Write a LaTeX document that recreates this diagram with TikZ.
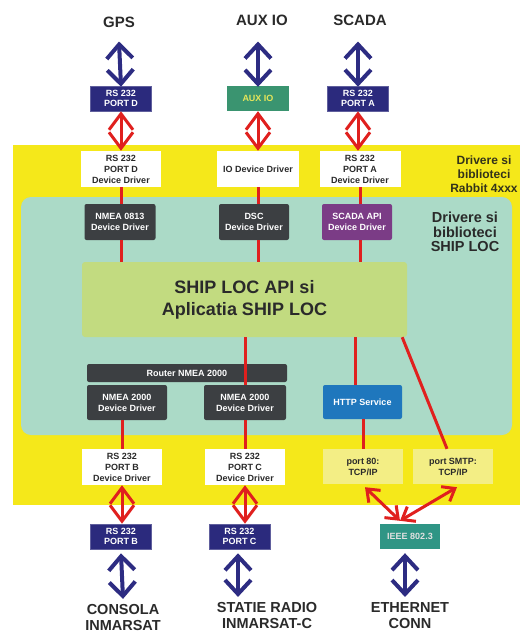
\documentclass[tikz,border=0pt]{standalone}
\usepackage{fontspec}
\setmainfont{Liberation Sans}
\usetikzlibrary{arrows.meta}
\definecolor{yellowbg}{HTML}{F5E81A}
\definecolor{tealbg}{HTML}{ABDAC7}
\definecolor{apigreen}{HTML}{C2DB80}
\definecolor{navyc}{HTML}{2B2A7D}
\definecolor{auxgreen}{HTML}{3A9470}
\definecolor{auxtext}{HTML}{E6E65A}
\definecolor{darkbox}{HTML}{3C3F42}
\definecolor{purplebox}{HTML}{7B3C86}
\definecolor{httpblue}{HTML}{1F77BD}
\definecolor{ieeeteal}{HTML}{2F9585}
\definecolor{portyellow}{HTML}{F3EE85}
\definecolor{redc}{HTML}{E0201E}
\definecolor{arrowblue}{HTML}{2D2C82}
\definecolor{textdark}{HTML}{2A2A2A}
\definecolor{olivetext}{HTML}{33331A}
\begin{document}
\begin{tikzpicture}[x=1pt,y=-1pt,
  box/.style={rectangle, inner sep=0pt, align=center, font=\bfseries\fontsize{9}{10.5}\selectfont},
  navybox/.style={box, fill=navyc, draw=navyc!75!white, line width=0.6pt, text=white, minimum width=61pt, minimum height=25pt},
  auxbox/.style={box, fill=auxgreen, text=auxtext, minimum width=62pt, minimum height=25pt},
  whitebox/.style={box, fill=white, text=textdark, minimum width=80pt, minimum height=36pt, font=\bfseries\fontsize{9}{11}\selectfont},
  darkbx/.style={box, fill=darkbox, text=white, rounded corners=2pt, minimum width=71pt, minimum height=36pt, font=\bfseries\fontsize{9}{11}\selectfont},
  portbox/.style={box, fill=portyellow, text=textdark, minimum width=80pt, minimum height=35pt, font=\bfseries\fontsize{9}{11}\selectfont},
  lbl/.style={inner sep=0pt, align=center, text=textdark, font=\bfseries\fontsize{15}{17}\selectfont},
  blbl/.style={inner sep=0pt, align=center, text=textdark, font=\bfseries\fontsize{14.5}{16.5}\selectfont},
  redline/.style={draw=redc, line width=3pt},
  diam/.style={redline, {Straight Barb[length=16pt,width=24pt]}-{Straight Barb[length=16pt,width=24pt]}},
  redarr/.style={redline, {Straight Barb[length=11pt,width=17pt]}-{Straight Barb[length=11pt,width=17pt]}},
  bluearr/.style={draw=arrowblue, line width=4pt, {Straight Barb[length=14pt,width=26pt]}-{Straight Barb[length=14pt,width=26pt]}}
]
\useasboundingbox (0,0) rectangle (520,635);
\fill[white] (0,0) rectangle (520,635);
% backgrounds
\fill[yellowbg] (13,145) rectangle (520,505);
\fill[tealbg, rounded corners=10pt] (21,197) rectangle (512,435);

% top labels
\node[lbl] (gps) at (119,22) {GPS};
\node[lbl] (auxl) at (262,20) {AUX IO};
\node[lbl] (scadal) at (360,20) {SCADA};

% top port boxes
\node[navybox] (pD) at (121,98.5) {RS 232\\PORT D};
\node[auxbox] (aux) at (258,98.5) {AUX IO};
\node[navybox] (pA) at (358,98.5) {RS 232\\PORT A};

% driver boxes (Rabbit)
\node[whitebox] (dD) at (121,169) {RS 232\\PORT D\\Device Driver};
\node[whitebox, minimum width=82pt] (dIO) at (258,169) {IO Device Driver};
\node[whitebox, minimum width=81pt] (dA) at (360,169) {RS 232\\PORT A\\Device Driver};

\node[align=center, inner sep=0pt, text=olivetext, font=\bfseries\fontsize{12}{14}\selectfont] (rabbit) at (484,174) {Drivere si\\biblioteci\\Rabbit 4xxx};

% SHIP LOC drivers
\node[darkbx] (nm0813) at (120,222) {NMEA 0813\\Device Driver};
\node[darkbx, minimum width=70pt] (dsc) at (254,222) {DSC\\Device Driver};
\node[darkbx, fill=purplebox, minimum width=70pt] (scada) at (357,222) {SCADA API\\Device Driver};

\node[align=center, inner sep=0pt, text=textdark, font=\bfseries\fontsize{14.5}{14.5}\selectfont] (shipl) at (465,232) {Drivere si\\biblioteci\\SHIP LOC};

% API
\node[box, fill=apigreen, rounded corners=3pt, minimum width=325pt, minimum height=75pt, text=textdark, font=\bfseries\fontsize{18}{22}\selectfont] (api) at (244.5,299.5) {SHIP LOC API si\\Aplicatia SHIP LOC};

% router & NMEA 2000
\node[darkbx, minimum width=200pt, minimum height=18pt] (router) at (187,373) {Router NMEA 2000};
\node[darkbx, minimum width=80pt, minimum height=35pt] (nmeaL) at (127,402.5) {NMEA 2000\\Device Driver};
\node[darkbx, minimum width=82pt, minimum height=35pt] (nmeaR) at (245,402.5) {NMEA 2000\\Device Driver};
\node[darkbx, fill=httpblue, minimum width=79pt, minimum height=34pt] (http) at (362.5,402) {HTTP Service};

% bottom drivers
\node[whitebox] (dB) at (122,467) {RS 232\\PORT B\\Device Driver};
\node[whitebox] (dC) at (245,467) {RS 232\\PORT C\\Device Driver};
\node[portbox] (port80) at (363,466.5) {port 80:\\TCP/IP};
\node[portbox] (smtp) at (453,466.5) {port SMTP:\\TCP/IP};

% bottom port boxes
\node[navybox] (pB) at (121,536.5) {RS 232\\PORT B};
\node[navybox] (pC) at (239.5,536.5) {RS 232\\PORT C};
\node[box, fill=ieeeteal, text=white!88!black, minimum width=60pt, minimum height=25pt] (ieee) at (410,536.5) {IEEE 802.3};

% bottom labels
\node[blbl] (consola) at (123,617.5) {CONSOLA\\INMARSAT};
\node[blbl] (statie) at (267,615.5) {STATIE RADIO\\INMARSAT-C};
\node[blbl] (eth) at (410,615.5) {ETHERNET\\CONN};

% ---- connectors ----
% blue top arrows
\draw[bluearr] ([yshift=-1pt]pD.north) -- ([yshift=-14pt]gps.south);
\coordinate (auxt) at ([yshift=-1pt]aux.north);
\coordinate (auxlb) at ([yshift=-16pt]auxl.south);
\draw[bluearr] (auxt) -- (auxt |- auxlb);
\coordinate (pAt) at ([yshift=-1pt]pA.north);
\coordinate (scadalb) at ([yshift=-16pt]scadal.south);
\draw[bluearr] (pAt) -- (pAt |- scadalb);

% red diamonds top
\draw[diam] (pD.south) -- (dD.north);
\draw[diam] (aux.south) -- (aux.south |- dIO.north);
\draw[diam] (pA.south) -- (pA.south |- dA.north);

% vertical red lines
\draw[redline] (dD.south) -- (dD.south |- nm0813.north);
\draw[redline] (dD.south |- nm0813.south) -- (dD.south |- api.north);
\draw[redline] (dIO.south) -- (dIO.south |- dsc.north);
\draw[redline] (dIO.south |- dsc.south) -- (dIO.south |- api.north);
\draw[redline] (dA.south) -- (dA.south |- scada.north);
\draw[redline] (dA.south |- scada.south) -- (dA.south |- api.north);

\draw[redline] (nmeaR.north |- api.south) -- (nmeaR.north);
\coordinate (httpin) at ([xshift=-7pt]http.north);
\draw[redline] (httpin |- api.south) -- (httpin);
\draw[redline] (port80.north |- http.south) -- (port80.north);
\draw[redline] ([xshift=-5pt]api.south east) -- ([xshift=-6pt]smtp.north);
\draw[redline] (dB.north |- nmeaL.south) -- (dB.north);
\draw[redline] (dC.north |- nmeaR.south) -- (dC.north);

% red diamonds bottom
\draw[diam] (dB.south) -- (dB.south |- pB.north);
\draw[diam] (dC.south) -- (dC.south |- pC.north);

% ethernet red arrows
\coordinate (ieeetop) at ([xshift=-10pt,yshift=3pt]ieee.north);
\draw[redarr] (ieeetop) -- ([xshift=2pt,yshift=-3pt]port80.south);
\draw[redarr] (ieeetop) -- ([xshift=4pt,yshift=-3pt]smtp.south);

% blue bottom arrows
\draw[bluearr] ([yshift=-4pt]pB.south) -- ([yshift=5pt]consola.north);
\coordinate (pCb) at ([yshift=-4pt,xshift=-1.5pt]pC.south);
\coordinate (statt) at ([yshift=5pt]statie.north);
\draw[bluearr] (pCb) -- (pCb |- statt);
\coordinate (ieeeb) at ([yshift=-4pt,xshift=-5pt]ieee.south);
\coordinate (etht) at ([yshift=5pt]eth.north);
\draw[bluearr] (ieeeb) -- (ieeeb |- etht);
\end{tikzpicture}
\end{document}
